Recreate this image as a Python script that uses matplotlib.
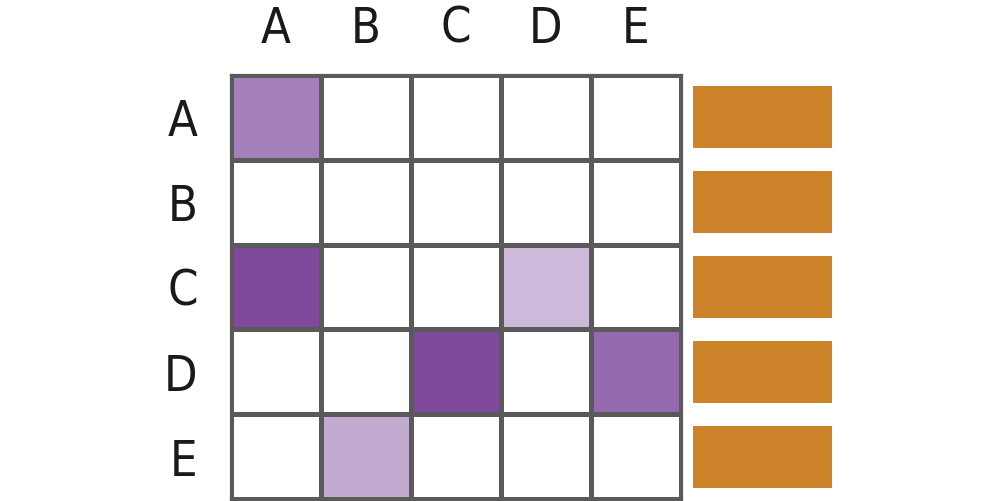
import numpy as np
import matplotlib
matplotlib.use("Agg")
import matplotlib.pyplot as plt
from matplotlib.colors import LinearSegmentedColormap

rows = ["A", "B", "C", "D", "E"]
cols = ["A", "B", "C", "D", "E"]
values = [
    [0.71, 0.00, 0.00, 0.00, 0.00],
    [0.00, 0.00, 0.00, 0.00, 0.00],
    [1.00, 0.00, 0.00, 0.39, 0.00],
    [0.00, 0.00, 1.00, 0.00, 0.83],
    [0.00, 0.47, 0.00, 0.00, 0.00],
]
row_totals = [1, 1, 1, 1, 1]

plt.rcParams['font.family'] = ['DejaVu Sans']
plt.rcParams['font.stretch'] = 'condensed'

W, H = 1003, 501
fig = plt.figure(figsize=(W / 100, H / 100), dpi=100)

cmap = LinearSegmentedColormap.from_list("pur", ["#ffffff", "#7f4a9c"])
ax = fig.add_axes([231 / W, 2 / H, 450 / W, 424 / H])
data = np.array(values)
ax.pcolormesh(np.arange(len(cols) + 1), np.arange(len(rows) + 1), data,
              cmap=cmap, vmin=0, vmax=1, edgecolors="#5a5a5a", linewidth=2.3)
ax.set_xlim(0, len(cols))
ax.set_ylim(len(rows), 0)
ax.xaxis.tick_top()
ax.set_xticks(np.arange(len(cols)) + 0.5)
ax.set_xticklabels(cols)
ax.set_yticks(np.arange(len(rows)) + 0.5)
ax.set_yticklabels(rows)
ax.tick_params(length=0, labelsize=35, labelcolor="#1a1a1a")
ax.tick_params(axis="x", pad=16)
ax.tick_params(axis="y", pad=24)
for s in ax.spines.values():
    s.set_color("#5a5a5a")
    s.set_linewidth(2.3)

bx = fig.add_axes([693 / W, 2 / H, 139 / W, 424 / H])
bx.barh(np.arange(len(rows)) + 0.5, row_totals, height=0.73, color="#cc8329")
bx.set_xlim(0, max(row_totals))
bx.set_ylim(len(rows), 0)
bx.axis("off")

fig.savefig("out.png", dpi=100)
